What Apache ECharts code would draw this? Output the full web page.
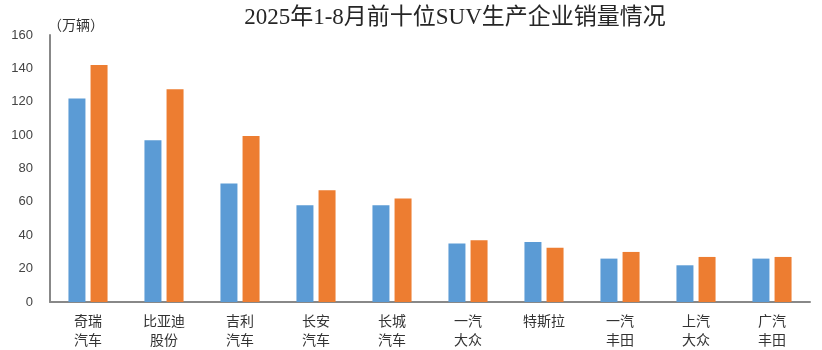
<!DOCTYPE html>
<html>
<head>
<meta charset="utf-8">
<script src="https://cdn.jsdelivr.net/npm/echarts@6/dist/echarts.min.js"></script>
<style>html,body{margin:0;padding:0;background:#fff}</style>
</head>
<body>
<div id="chart" style="width:822px;height:350px"></div>
<script>
// 企业名称（换行显示）
var categories = ['奇瑞\n汽车', '比亚迪\n股份', '吉利\n汽车', '长安\n汽车', '长城\n汽车',
                  '一汽\n大众', '特斯拉', '一汽\n丰田', '上汽\n大众', '广汽\n丰田'];
// 两组销量（万辆）
var salesA = [122, 97, 71, 58, 58, 35, 36, 26, 22, 26];
var salesB = [142, 127.5, 99.5, 67, 62, 37, 32.5, 30, 27, 27];
var yTicks = [0, 20, 40, 60, 80, 100, 120, 140, 160];

var chart = echarts.init(document.getElementById('chart'));
chart.setOption({
    backgroundColor: '#fff',
    animation: false,
    title: {
        text: '2025年1-8月前十位SUV生产企业销量情况',
        left: 450,
        textAlign: 'center',
        top: 1,
        textStyle: {
            fontFamily: '"Liberation Serif", "Noto Sans CJK SC", serif',
            fontWeight: 'normal',
            fontSize: 23,
            color: '#262626'
        }
    },
    grid: { left: 50, right: 12, top: 35, bottom: 48 },
    xAxis: {
        type: 'category',
        data: categories,
        axisLine: { lineStyle: { color: '#888', width: 2 } },
        axisTick: { show: false },
        axisLabel: {
            color: '#333',
            fontSize: 14,
            lineHeight: 19,
            margin: 9,
            fontFamily: '"Noto Sans CJK SC", sans-serif'
        }
    },
    yAxis: {
        type: 'value',
        min: yTicks[0],
        max: yTicks[yTicks.length - 1],
        interval: 20,
        name: '（万辆）',
        nameLocation: 'end',
        nameGap: 3,
        nameTextStyle: { color: '#333', fontSize: 14, align: 'left', padding: [0, 0, 0, -2],
                         fontFamily: '"Noto Sans CJK SC", sans-serif' },
        axisLine: { show: true, lineStyle: { color: '#888', width: 2 } },
        axisTick: { show: false },
        splitLine: { show: false },
        axisLabel: { color: '#444', fontSize: 13, margin: 17, fontFamily: 'Arial, "Liberation Sans", sans-serif' }
    },
    series: [{
        type: 'bar',
        data: salesA,
        barWidth: 17,
        barGap: '30%',
        itemStyle: { color: '#5B9BD5' }
    }, {
        type: 'bar',
        data: salesB,
        barWidth: 17,
        itemStyle: { color: '#ED7D31' }
    }]
});
</script>
</body>
</html>
